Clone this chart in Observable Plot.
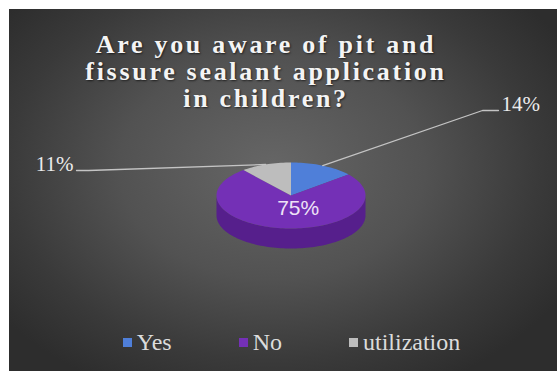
<!DOCTYPE html>
<html>
<head>
<meta charset="utf-8">
<script src="https://cdn.jsdelivr.net/npm/d3@7"></script>
<script src="https://cdn.jsdelivr.net/npm/@observablehq/plot@0.6"></script>
<style>
  html, body { margin: 0; padding: 0; background: #ffffff; }
  #chart { position: relative; width: 557px; height: 371px; overflow: hidden; background: #ffffff; }
  #bg { position: absolute; left: 9px; top: 9px; right: 0; bottom: 0;
        background: radial-gradient(ellipse 62% 68% at 48% 44%, #666666 0%, #525252 45%, #3a3a3a 78%, #2d2d2d 100%); }
  #title { position: absolute; left: 0; width: 532px; top: 31px; text-align: center;
           font-family: "Liberation Serif", "Times New Roman", serif; font-weight: bold; font-size: 26px;
           letter-spacing: 2.7px; line-height: 27px; color: #f4f4f4;
           text-shadow: 1px 1px 2px rgba(0,0,0,0.6); }
  #plot { position: absolute; left: 0; top: 0; }
  #legend { position: absolute; left: 0; width: 583px; top: 329px; display: flex; justify-content: center;
            gap: 67px; font-family: "Liberation Serif", "Times New Roman", serif; font-size: 24px; color: #dcdcdc; }
  .item { display: flex; align-items: center; gap: 5px; }
  .sw { width: 9px; height: 9px; display: inline-block; }
</style>
</head>
<body>
<div id="chart">
  <div id="bg"></div>
  <div id="title">Are you aware of pit and<br>fissure sealant application<br>in children?</div>
  <div id="plot"></div>
  <div id="legend"></div>
</div>
<script>
// ---- data ----
const categories = ["Yes", "No", "utilization"];
const values = [14, 75, 11];
const labels = ["14%", "75%", "11%"];

// ---- styles / layout ----
const serif = "'Liberation Serif', 'Times New Roman', serif";
const topColors = ["#4f7fd9", "#7430b6", "#bdbdbd"];
const sideColors = ["#3a5fa8", "#561f8c", "#8c8c8c"];
const W = 557, H = 371;
const pie = { cx: 290.5, cy: 195, rx: 74.5, ry: 33, depth: 20 };
const labelLayout = {
  "Yes":         { mode: "outside", tx: 501, ty: 110, elbowX: 482, lineY: 110, anchor: "start" },
  "utilization": { mode: "outside", tx: 73,  ty: 170, elbowX: 88,  lineY: 170, anchor: "end" },
  "No":          { mode: "inside",  frac: 0.4, dx: 10 }
};

// ---- geometry from data ----
const total = d3.sum(values);
let acc = 0;
const slices = values.map((v, i) => {
  const a0 = acc / total * 2 * Math.PI; acc += v;
  const a1 = acc / total * 2 * Math.PI;
  return { i, cat: categories[i], v, label: labels[i], a0, a1, mid: (a0 + a1) / 2 };
});
const px = (a, f = 1) => pie.cx + pie.rx * f * Math.sin(a);
const py = (a, f = 1, dz = 0) => pie.cy - pie.ry * f * Math.cos(a) + dz;
function arc(a0, a1, dz = 0) {
  const n = Math.max(2, Math.ceil((a1 - a0) / (Math.PI / 90)));
  return d3.range(n + 1).map(k => { const a = a0 + (a1 - a0) * k / n; return [px(a), py(a, 1, dz)]; });
}
const polys = [];
slices.forEach(s => {
  const lo = Math.max(s.a0, Math.PI / 2), hi = Math.min(s.a1, 3 * Math.PI / 2);
  if (hi > lo) {
    const pts = [...arc(lo, hi), ...arc(lo, hi, pie.depth).reverse()];
    pts.forEach(([x, y]) => polys.push({ id: "side" + s.i, x, y, fill: sideColors[s.i] }));
  }
});
slices.forEach(s => {
  [[pie.cx, pie.cy], ...arc(s.a0, s.a1)].forEach(([x, y]) => polys.push({ id: "top" + s.i, x, y, fill: topColors[s.i] }));
});

const leaders = [];
const outsideLabels = [];
const insideLabels = [];
slices.forEach(s => {
  const L = labelLayout[s.cat];
  if (L.mode === "outside") {
    leaders.push({ id: s.cat, x: px(s.mid), y: py(s.mid) });
    leaders.push({ id: s.cat, x: L.elbowX, y: L.lineY });
    leaders.push({ id: s.cat, x: L.tx + (L.anchor === "start" ? -3 : 3), y: L.lineY });
    outsideLabels.push({ x: L.tx, y: L.ty, text: s.label, anchor: L.anchor });
  } else {
    insideLabels.push({ x: px(s.mid, L.frac) + L.dx, y: py(s.mid, L.frac), text: s.label });
  }
});

const chart = Plot.plot({
  width: W, height: H, margin: 0,
  x: { domain: [0, W], range: [0, W], axis: null },
  y: { domain: [0, H], range: [0, H], axis: null },
  color: { type: "identity" },
  style: { background: "transparent", overflow: "visible" },
  marks: [
    Plot.line(polys, { x: "x", y: "y", z: "id", fill: "fill", stroke: "none", curve: "linear" }),
    Plot.line(leaders, { x: "x", y: "y", z: "id", stroke: "#c4c4c4", strokeWidth: 1.3 }),
    Plot.text(outsideLabels.filter(d => d.anchor === "start"), { x: "x", y: "y", text: "text", textAnchor: "start",
      lineAnchor: "bottom", fontFamily: serif, fontSize: 21, fill: "#ececec" }),
    Plot.text(outsideLabels.filter(d => d.anchor === "end"), { x: "x", y: "y", text: "text", textAnchor: "end",
      lineAnchor: "bottom", fontFamily: serif, fontSize: 21, fill: "#ececec" }),
    Plot.text(insideLabels, { x: "x", y: "y", text: "text", fontFamily: "'Liberation Sans', Arial, sans-serif", fontSize: 21, fill: "#eee2f6" })
  ]
});
document.getElementById("plot").appendChild(chart);

// legend
const legend = document.getElementById("legend");
categories.forEach((c, i) => {
  const item = document.createElement("div"); item.className = "item";
  const sw = document.createElement("span"); sw.className = "sw"; sw.style.background = topColors[i];
  const t = document.createElement("span"); t.textContent = c;
  item.appendChild(sw); item.appendChild(t); legend.appendChild(item);
});
</script>
</body>
</html>
